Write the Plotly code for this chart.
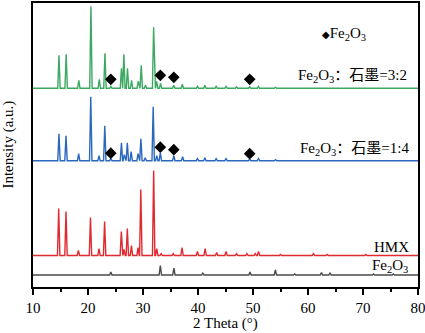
import plotly.graph_objects as go

# ---- data (2θ in degrees, intensity above each curve's baseline, a.u.) ----
green_pos = [14.72, 16.03, 18.33, 20.53, 22.05, 23.08, 24.15, 26.08, 26.52, 27.18, 27.92, 29.12, 29.68,
             30.45, 31.93, 32.48, 33.2, 35.6, 37.15, 39.9, 41.25, 43.3, 45.1, 47.0, 49.4, 51.0, 54.1]
green_h = [33, 34, 8, 82, 9, 35, 2, 20, 34, 20, 8, 7, 23,
           3, 61, 7, 5, 3, 4, 2, 3, 2, 2, 1.5, 1.5, 2, 1]

blue_pos = [14.72, 16.0, 18.3, 20.5, 22.0, 23.05, 24.15, 26.08, 26.6, 27.15, 27.85, 29.1, 29.62,
            30.4, 31.85, 32.5, 33.15, 35.6, 37.2, 39.9, 41.25, 43.3, 45.1, 49.4, 51.0, 54.1]
blue_h = [27, 25, 7, 64, 5, 35, 2, 18, 6, 18, 9, 7, 22,
          3, 54, 5, 8, 5, 4, 2, 3, 2, 2, 1.5, 2, 1]

red_pos = [14.67, 16.0, 18.25, 20.45, 22.0, 23.02, 26.06, 26.55, 27.15, 27.9, 29.1, 29.6, 31.94, 32.5,
           33.3, 35.5, 37.1, 39.9, 41.3, 43.4, 45.1, 47.0, 48.9, 50.4, 51.0, 55.0, 61.0, 63.5, 70.5]
red_h = [47, 44, 5, 38, 7, 34, 24, 6, 27, 10, 8, 66, 85, 7,
         2, 2, 8, 4, 7, 3, 4, 2, 2, 2, 4, 1, 2, 1, 1]

gray_pos = [24.15, 33.15, 35.62, 40.88, 49.45, 54.07, 57.6, 62.45, 64.0, 71.9, 75.5]
gray_h = [3, 9.5, 7, 2, 3, 5, 1, 2.5, 2, 1, 1]

# Fe2O3 reflection markers (diamonds)
fe_mark_pos = [24.15, 33.15, 35.6, 49.4]
green_mark_h = [9, 13, 11, 9]
blue_mark_h = [7.5, 13.5, 11, 7]

# stacking offsets of the curves
off_green, off_blue, off_red, off_gray = 198.7, 126.3, 31.5, 12.0

x_ticks = [10, 20, 30, 40, 50, 60, 70, 80]

SERIF = "Liberation Serif, Times New Roman, Noto Sans CJK SC, serif"


def pattern(pos, h, off, hw=0.22, x0=10, x1=80):
    xs, ys = [x0], [off]
    for p, v in zip(pos, h):
        xs += [p - hw, p, p + hw]
        ys += [off, off + v, off]
    xs.append(x1)
    ys.append(off)
    return xs, ys


fig = go.Figure()
series = [
    (green_pos, green_h, off_green, "#3ca862"),
    (blue_pos, blue_h, off_blue, "#2a68bd"),
    (red_pos, red_h, off_red, "#e02a30"),
    (gray_pos, gray_h, off_gray, "#4a4a4a"),
]
for pos, h, off, col in series:
    xs, ys = pattern(pos, h, off)
    fig.add_trace(go.Scatter(x=xs, y=ys, mode="lines", line=dict(color=col, width=1.4),
                             showlegend=False, hoverinfo="skip"))

for mh, off in [(green_mark_h, off_green), (blue_mark_h, off_blue)]:
    fig.add_trace(go.Scatter(x=fe_mark_pos, y=[off + v for v in mh], mode="markers",
                             marker=dict(symbol="diamond", size=9, color="black"),
                             showlegend=False, hoverinfo="skip"))

fig.update_layout(
    width=425, height=333,
    margin=dict(l=33, r=7, t=3, b=46),
    plot_bgcolor="white", paper_bgcolor="white",
    font=dict(family=SERIF, size=15, color="black"),
    xaxis=dict(range=[10, 80], tickvals=x_ticks, ticks="outside", ticklen=6, tickwidth=1.5,
               tickcolor="black", showline=True, linewidth=2, linecolor="black", mirror=True,
               showgrid=False, zeroline=False, automargin=False, ticklabeloverflow="allow",
               minor=dict(dtick=5, tick0=5, ticks="outside", ticklen=3, tickwidth=1.5, tickcolor="black"),
               tickfont=dict(family=SERIF, size=15, color="black")),
    yaxis=dict(range=[0, 284], showticklabels=False, ticks="", showline=True, linewidth=2,
               linecolor="black", mirror=True, showgrid=False, zeroline=False, automargin=False),
)

ann = [
    dict(text="2 Theta (°)", x=0.5, y=-0.127, xref="paper", yref="paper",
         xanchor="center", yanchor="middle", showarrow=False, font=dict(size=15)),
    dict(text="Intensity (a.u.)", x=-0.066, y=0.5, xref="paper", yref="paper", textangle=-90,
         xanchor="center", yanchor="middle", showarrow=False, font=dict(size=15)),
    dict(text='<span style="font-family:DejaVu Sans;font-size:10px">◆</span>Fe<sub>2</sub>O<sub>3</sub>',
         x=0.745, y=253, xref="paper", yref="y", xanchor="left", yanchor="middle",
         showarrow=False, font=dict(size=15)),
    dict(text="Fe<sub>2</sub>O<sub>3</sub>：石墨=3:2", x=0.977, y=211, xref="paper", yref="y",
         xanchor="right", yanchor="middle", showarrow=False, font=dict(size=15)),
    dict(text="Fe<sub>2</sub>O<sub>3</sub>：石墨=1:4", x=0.983, y=138.5, xref="paper", yref="y",
         xanchor="right", yanchor="middle", showarrow=False, font=dict(size=15)),
    dict(text="HMX", x=0.981, y=40.5, xref="paper", yref="y",
         xanchor="right", yanchor="middle", showarrow=False, font=dict(size=15)),
    dict(text="Fe<sub>2</sub>O<sub>3</sub>", x=0.979, y=21, xref="paper", yref="y",
         xanchor="right", yanchor="middle", showarrow=False, font=dict(size=15)),
]
fig.update_layout(annotations=ann)

fig.write_html("out.html",
               config={"displayModeBar": False},
               post_script="document.body.style.margin='0';document.body.style.padding='0';"
                           "document.body.style.overflow='hidden';")
